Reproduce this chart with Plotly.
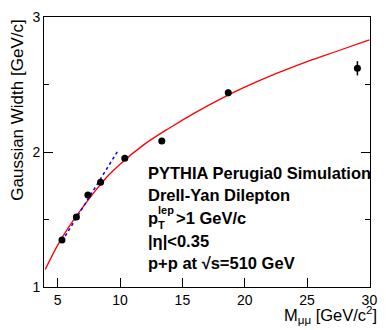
import plotly.graph_objects as go

# Gaussian width of the dimuon peak vs pair mass (PYTHIA Perugia0)
mass = [5.34, 6.50, 7.42, 8.44, 10.38, 13.35, 18.68, 29.04]
width = [1.348, 1.518, 1.681, 1.776, 1.954, 2.082, 2.438, 2.620]
width_err = [0.010, 0.010, 0.012, 0.013, 0.015, 0.020, 0.025, 0.053]

# Fit curve sampled along the mass range
fit_mass = [4.0, 5.0, 6.0, 7.0, 8.0, 9.0, 10.0, 12.0, 14.0, 16.0, 18.0,
            20.0, 22.5, 25.0, 27.5, 30.0]
fit_width = [1.13, 1.31, 1.46, 1.59, 1.71, 1.82, 1.91, 2.06, 2.18, 2.29,
             2.39, 2.48, 2.58, 2.67, 2.75, 2.83]

# Linear fit over the low-mass points
lin_mass = [5.35, 9.9]
lin_width = [1.34, 2.02]

x_ticks = [5, 10, 15, 20, 25, 30]
y_ticks = [1, 2, 3]

label_lines = [
    "PYTHIA Perugia0 Simulation",
    "Drell-Yan Dilepton",
    None,
    "|η|<0.35",
    "p+p at √s=510 GeV",
]

FONT = "Liberation Sans, Arial, Helvetica, sans-serif"
LABEL_SIZE = 16.5

fig = go.Figure()

fig.add_trace(go.Scatter(
    x=fit_mass, y=fit_width, mode="lines",
    line=dict(color="#ff0000", width=1.3, shape="spline"),
    hoverinfo="skip", showlegend=False,
))
fig.add_trace(go.Scatter(
    x=lin_mass, y=lin_width, mode="lines",
    line=dict(color="#0000ff", width=1.5, dash="dot"),
    hoverinfo="skip", showlegend=False,
))
fig.add_trace(go.Scatter(
    x=mass, y=width, mode="markers",
    marker=dict(color="black", size=7, symbol="circle"),
    error_y=dict(type="data", array=width_err, color="black",
                 thickness=1.5, width=0),
    showlegend=False,
))

fig.update_layout(
    width=386, height=330,
    margin=dict(l=44, r=9, t=13, b=43),
    paper_bgcolor="white", plot_bgcolor="white",
    font=dict(family=FONT, color="black", size=14),
    xaxis=dict(
        range=[3.9, 30.05], tickvals=x_ticks, ticks="inside", ticklen=9,
        tickcolor="black", tickwidth=1, showline=True, linecolor="black",
        linewidth=1, mirror=True, showgrid=False, zeroline=False,
        tickfont=dict(size=14, family=FONT),
    ),
    yaxis=dict(
        range=[1, 3], tickvals=y_ticks, ticks="inside", ticklen=9,
        tickcolor="black", tickwidth=1, showline=True, linecolor="black",
        linewidth=1, mirror="ticks", showgrid=False, zeroline=False,
        tickfont=dict(size=14, family=FONT),
        minor=dict(dtick=0.5, ticks="inside", ticklen=5, tickcolor="black",
                   tickwidth=1, showgrid=False),
    ),
)

# axis titles
fig.add_annotation(
    text="Gaussian Width [GeV/c]", textangle=-90,
    xref="paper", yref="paper", x=-0.081, y=0.655,
    xanchor="center", yanchor="middle", showarrow=False,
    font=dict(size=17, family=FONT),
)
fig.add_annotation(
    text="M<sub>μμ</sub> [GeV/c<sup>2</sup>]",
    xref="paper", yref="paper", x=1.027, y=-0.151,
    xanchor="right", yanchor="bottom", showarrow=False,
    font=dict(size=16.5, family=FONT),
)

# label block
x0 = (148 - 44) / 333
line_px = [171, 193.5, 216.5, 240, 263]
for txt, py in zip(label_lines, line_px):
    if txt is None:
        continue
    fig.add_annotation(
        text=f"<b>{txt}</b>", xref="paper", yref="paper",
        x=x0, y=(287 - py) / 274, xanchor="left", yanchor="middle",
        showarrow=False, font=dict(size=LABEL_SIZE, family=FONT),
    )

# p_T^lep line with stacked sub/superscript
py = line_px[2]
fig.add_annotation(
    text="<b>p</b>", xref="paper", yref="paper",
    x=x0, y=(287 - py) / 274, xanchor="left", yanchor="middle",
    showarrow=False, font=dict(size=LABEL_SIZE, family=FONT),
)
fig.add_annotation(
    text="<b>lep</b>", xref="paper", yref="paper",
    x=x0 + 10.5 / 333, y=(287 - (py - 7.5)) / 274, xanchor="left",
    yanchor="middle", showarrow=False, font=dict(size=11, family=FONT),
)
fig.add_annotation(
    text="<b>T</b>", xref="paper", yref="paper",
    x=x0 + 10.5 / 333, y=(287 - (py + 7.5)) / 274, xanchor="left",
    yanchor="middle", showarrow=False, font=dict(size=11, family=FONT),
)
fig.add_annotation(
    text="<b>>1 GeV/c</b>", xref="paper", yref="paper",
    x=x0 + 29 / 333, y=(287 - py) / 274, xanchor="left", yanchor="middle",
    showarrow=False, font=dict(size=LABEL_SIZE, family=FONT),
)

fig.write_html("out.html")
